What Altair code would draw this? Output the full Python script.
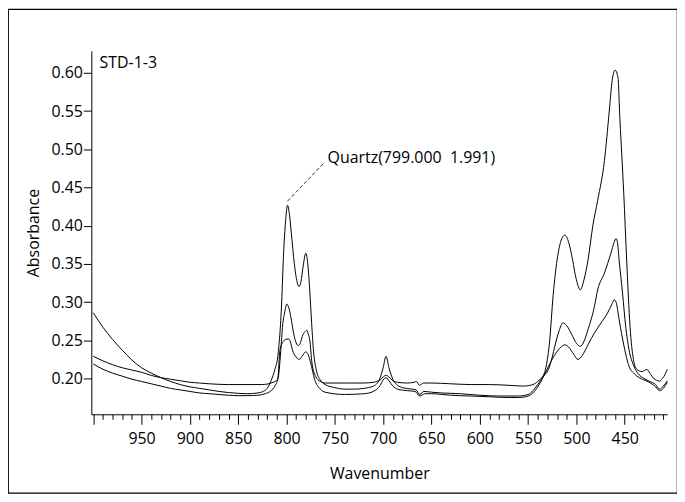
import altair as alt
import pandas as pd

# ---- data (wavenumber, absorbance) ----
A_wn = [1000, 990, 980, 970, 960, 950, 940, 930, 920, 910, 900, 890, 880, 870, 860, 850, 840, 830, 824, 820, 816, 812, 809,
        805, 803, 801, 799, 797, 795, 792, 789, 787, 785, 783, 780, 778, 776, 774, 772, 769, 765, 760, 750, 740, 730, 720,
        710, 704, 700, 697, 694, 690, 685, 680, 670, 666, 662, 658, 650, 640, 620, 600, 580, 560, 550, 545, 540, 536, 532,
        528, 524, 520, 516, 512, 508, 505, 500, 496, 492, 488, 483, 478, 471, 466, 463, 460, 457, 455, 451, 448, 444.5, 441,
        437.5, 432, 427, 424, 420, 416, 414, 411, 408, 406]
A_abs = [0.286, 0.267, 0.251, 0.237, 0.224, 0.214, 0.207, 0.201, 0.196, 0.192, 0.189, 0.187, 0.185, 0.183, 0.1815, 0.1805,
         0.180, 0.181, 0.183, 0.187, 0.197, 0.212, 0.229,
         0.300, 0.365, 0.405, 0.4267, 0.415, 0.390, 0.351, 0.326, 0.320, 0.327, 0.345, 0.3638, 0.350, 0.316, 0.272, 0.235,
         0.210, 0.198, 0.192, 0.188, 0.186, 0.186, 0.187,
         0.190, 0.198, 0.214, 0.229, 0.214, 0.199, 0.191, 0.188, 0.186, 0.185, 0.179, 0.183, 0.182, 0.181, 0.180, 0.178,
         0.177, 0.177, 0.179, 0.184, 0.192, 0.200, 0.212,
         0.245, 0.310, 0.355, 0.380, 0.3876, 0.378, 0.362, 0.329, 0.316, 0.330, 0.355, 0.400, 0.433, 0.485, 0.550, 0.590,
         0.6035, 0.594, 0.540, 0.442, 0.355, 0.268, 0.225,
         0.212, 0.209, 0.2117, 0.207, 0.200, 0.197, 0.1965, 0.200, 0.206, 0.212]

B_wn = [1000, 990, 980, 970, 960, 950, 940, 930, 920, 910, 900, 890, 880, 860, 840, 825, 816, 812, 809, 806, 804, 802,
        799.7, 797.5, 795.6, 792, 788, 785.5, 783.7, 781, 779, 777.5, 776, 773.7, 770, 765, 760, 740, 720, 710, 703, 700,
        697, 694, 690, 685, 675, 668, 665.5, 662.5, 658, 650, 630, 610, 590, 570, 555, 545, 540, 535, 529, 525, 522.4,
        518, 514, 510, 505, 500, 496, 492, 488, 481.4, 478, 471, 464.3, 461, 459, 457.5, 455.8, 452.3, 449, 445.6, 440.5,
        436, 430, 424, 418, 414, 410, 406]
B_abs = [0.229, 0.223, 0.218, 0.214, 0.211, 0.208, 0.204, 0.201, 0.199, 0.197, 0.195, 0.194, 0.193, 0.192, 0.192, 0.192,
         0.194, 0.196, 0.199, 0.235, 0.270, 0.2856,
         0.2973, 0.292, 0.281, 0.255, 0.243, 0.247, 0.255, 0.261, 0.263, 0.258, 0.2508, 0.2205, 0.203, 0.196, 0.194,
         0.194, 0.194, 0.195, 0.198, 0.202,
         0.204, 0.202, 0.197, 0.195, 0.194, 0.195, 0.196, 0.191, 0.194, 0.194, 0.193, 0.192, 0.192, 0.191, 0.190, 0.192,
         0.196, 0.202, 0.2117, 0.228, 0.242,
         0.262, 0.2726, 0.269, 0.258, 0.246, 0.242, 0.249, 0.264, 0.294, 0.316, 0.338, 0.364, 0.378, 0.383, 0.378, 0.355,
         0.312, 0.268, 0.238, 0.216,
         0.206, 0.200, 0.196, 0.192, 0.186, 0.190, 0.197]

C_wn = [1000, 990, 980, 970, 960, 950, 940, 930, 920, 910, 900, 890, 880, 870, 860, 850, 840, 830, 822, 816, 812, 809,
        806.7, 804, 801, 798, 796, 794, 790, 787, 784, 780, 777.5, 775, 771, 765, 760, 740, 720, 710, 703, 700, 697, 694,
        690, 685, 675, 667, 662, 657, 650, 630, 610, 590, 570, 560, 550, 545, 540, 535, 528, 521, 516, 512, 508, 503,
        498.5, 494, 488, 481.4, 474.5, 467.8, 463, 461, 459, 455.8, 450.7, 445.6, 440, 435, 428, 422, 418, 414, 410, 406]
C_abs = [0.219, 0.212, 0.207, 0.203, 0.199, 0.196, 0.193, 0.190, 0.187, 0.185, 0.183, 0.181, 0.180, 0.179, 0.178, 0.1775,
         0.1775, 0.178, 0.180, 0.184, 0.190, 0.200,
         0.2378, 0.247, 0.251, 0.2517, 0.248, 0.2378, 0.228, 0.2248, 0.229, 0.2348, 0.231, 0.2205, 0.199, 0.186, 0.182,
         0.179, 0.180, 0.183, 0.191, 0.198, 0.201, 0.197,
         0.190, 0.186, 0.184, 0.183, 0.177, 0.180, 0.180, 0.178, 0.177, 0.176, 0.175, 0.175, 0.177, 0.181, 0.189, 0.200,
         0.218, 0.2335, 0.241, 0.244, 0.241, 0.232,
         0.2248, 0.230, 0.244, 0.2595, 0.2726, 0.2856, 0.298, 0.303, 0.300, 0.2769, 0.242, 0.216, 0.206, 0.201, 0.197,
         0.193, 0.189, 0.184, 0.187, 0.195]

Y_TICKS = [0.20, 0.25, 0.30, 0.35, 0.40, 0.45, 0.50, 0.55, 0.60]
X_TICKS = list(range(410, 1001, 10))

SAMPLE_LABEL = "STD-1-3"
PEAK_LABEL = "Quartz(799.000\u00a0 1.991)"

# ---- build table ----
frames = []
for name, wn, ab in (("A", A_wn, A_abs), ("B", B_wn, B_abs), ("C", C_wn, C_abs)):
    frames.append(pd.DataFrame({"series": name, "wn": wn, "abs": ab}))
df = pd.concat(frames, ignore_index=True)

# ---- layout (view is the outer frame; plot region set by scale ranges) ----
W, H = 672, 486
X_RANGE = [83.7, 662.2]
Y_RANGE = [407, 42]
X_DOMAIN = [1002, 406]
Y_DOMAIN = [0.1531, 0.6287]
FONT = "Open Sans"

xscale = alt.Scale(domain=X_DOMAIN, range=X_RANGE, nice=False, zero=False)
yscale = alt.Scale(domain=Y_DOMAIN, range=Y_RANGE, nice=False, zero=False)

x_axis = alt.Axis(
    values=X_TICKS, tickCount=200,
    labelExpr="(datum.value % 50 == 0 && datum.value < 1000) ? datum.label : ''",
    tickSize={"condition": {"test": "datum.value % 50 == 0", "value": 10}, "value": 5},
    offset=-(H - Y_RANGE[0]),
    grid=False, domainColor="black", tickColor="black", domainWidth=1, tickWidth=1,
    labelFont=FONT, labelFontSize=16, labelColor="black", labelPadding=6,
    labelOverlap=False, labelFlush=False, labelBound=False,
    title="Wavenumber", titleFont=FONT, titleFontSize=16, titleFontWeight="normal",
    titleColor="black", titlePadding=20,
)
y_axis = alt.Axis(
    values=Y_TICKS, tickCount=50, format=".2f",
    offset=-X_RANGE[0], tickSize=8,
    grid=False, domainColor="black", tickColor="black", domainWidth=1, tickWidth=1,
    labelFont=FONT, labelFontSize=16, labelColor="black", labelPadding=1,
    labelOverlap=False, labelFlush=False, labelBound=False,
    title="Absorbance", titleFont=FONT, titleFontSize=16, titleFontWeight="normal",
    titleColor="black", titlePadding=9,
)

lines = alt.Chart(df).mark_line(interpolate="monotone", color="black", strokeWidth=1).encode(
    x=alt.X("wn:Q", scale=xscale, axis=x_axis),
    y=alt.Y("abs:Q", scale=yscale, axis=y_axis),
    detail="series:N",
)

# annotations (data-space anchors)
label_df = pd.DataFrame({"wn": [993.5, 757.5], "abs": [0.613, 0.488], "text": [SAMPLE_LABEL, PEAK_LABEL]})
texts = alt.Chart(label_df).mark_text(align="left", baseline="middle", font=FONT, fontSize=16, color="black").encode(
    x=alt.X("wn:Q", scale=xscale), y=alt.Y("abs:Q", scale=yscale), text="text:N"
)

leader_df = pd.DataFrame({"wn": [799.0], "abs": [0.432], "wn2": [760.5], "abs2": [0.483]})
leader = alt.Chart(leader_df).mark_rule(color="black", strokeWidth=0.8, strokeDash=[4, 2]).encode(
    x=alt.X("wn:Q", scale=xscale), y=alt.Y("abs:Q", scale=yscale), x2="wn2:Q", y2="abs2:Q"
)

chart = alt.layer(lines, leader, texts).properties(
    width=W, height=H, padding=0, autosize=alt.AutoSizeParams(type="none"), background="white"
).configure_view(stroke="black", strokeWidth=1.2)

chart.save("out.html", embed_options={"renderer": "svg", "actions": False})
